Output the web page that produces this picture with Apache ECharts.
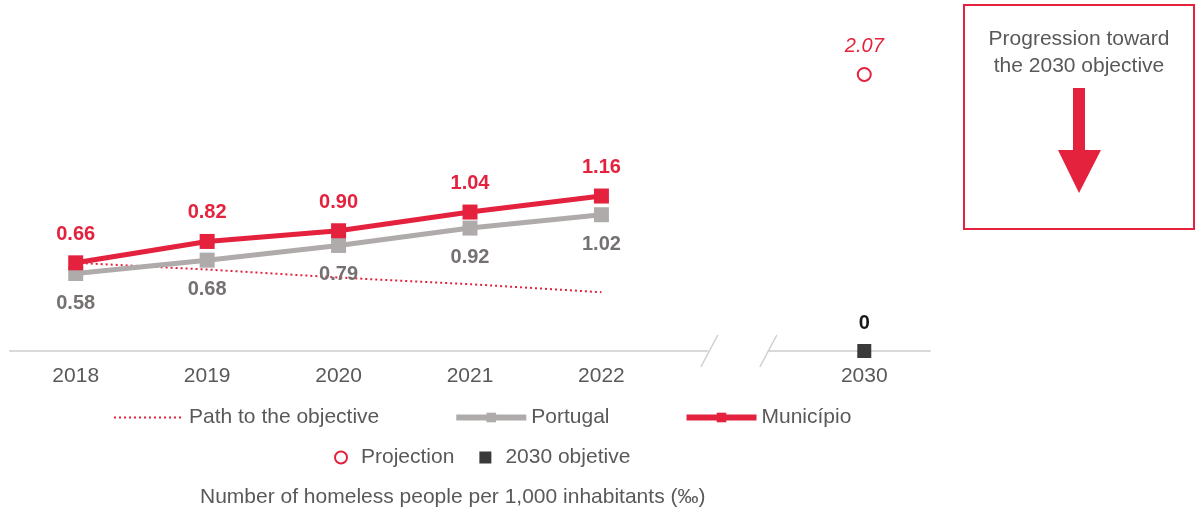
<!DOCTYPE html>
<html>
<head>
<meta charset="utf-8">
<script src="https://cdn.jsdelivr.net/npm/echarts@6/dist/echarts.min.js"></script>
<style>
  html, body { margin: 0; padding: 0; background: #fff; }
  #chart { width: 1196px; height: 511px; }
</style>
</head>
<body>
<div id="chart"></div>
<script>
// categories (empty slot = axis break between 2022 and 2030)
const years = ['2018', '2019', '2020', '2021', '2022', '', '2030']
const municipio = [0.66, 0.82, 0.90, 1.04, 1.16, null, null]
const portugal = [0.58, 0.68, 0.79, 0.92, 1.02, null, null]
const pathToObjective = [0.66, 0.61, 0.55, 0.50, 0.44, null, null]
const projection = [null, null, null, null, null, null, 2.07]
const objective2030 = [null, null, null, null, null, null, 0]

const RED = '#E4223E'
const GREY_LINE = '#AFABAB'
const GREY_TXT = '#767171'
const TXT = '#595959'
const FONT = "'Liberation Sans', Arial, sans-serif"

const chart = echarts.init(document.getElementById('chart'))

chart.setOption({
  animation: false,
  textStyle: { fontFamily: FONT },
  grid: { left: 10, right: 266, top: 17, bottom: 160 },
  xAxis: {
    type: 'category',
    data: years,
    axisTick: { show: false },
    axisLine: { lineStyle: { color: '#d9d9d9', width: 2 } },
    axisLabel: { color: TXT, fontSize: 21, margin: 15, fontFamily: FONT }
  },
  yAxis: { type: 'value', min: 0, max: 2.5, show: false, splitLine: { show: false } },
  legend: [
    {
      left: 108,
      top: 402,
      itemWidth: 70,
      itemHeight: 12,
      itemGap: 74,
      textStyle: { color: TXT, fontSize: 21, fontFamily: FONT },
      data: [
        { name: 'Path to the objective', itemStyle: { color: 'rgba(0,0,0,0)', borderWidth: 0 }, lineStyle: { width: 2 } },
        { name: 'Portugal', lineStyle: { width: 6 } },
        { name: 'Município', lineStyle: { width: 6 } }
      ]
    },
    {
      left: 321,
      top: 442,
      itemWidth: 30,
      itemHeight: 15,
      itemGap: 16,
      textStyle: { color: TXT, fontSize: 21, fontFamily: FONT },
      data: ['Projection', '2030 objetive']
    }
  ],
  series: [
    {
      name: 'Path to the objective',
      type: 'line',
      data: pathToObjective,
      symbol: 'none',
      lineStyle: { color: RED, width: 2, type: [2, 3] },
      itemStyle: { color: RED },
      z: 1
    },
    {
      name: 'Portugal',
      type: 'line',
      data: portugal,
      symbol: 'rect',
      symbolSize: 15,
      lineStyle: { color: GREY_LINE, width: 5 },
      itemStyle: { color: GREY_LINE },
      label: {
        show: true, position: 'bottom', distance: 12,
        color: GREY_TXT, fontSize: 20, fontWeight: 'bold', fontFamily: FONT,
        formatter: p => p.value.toFixed(2)
      },
      z: 2
    },
    {
      name: 'Município',
      type: 'line',
      data: municipio,
      symbol: 'rect',
      symbolSize: 15,
      lineStyle: { color: RED, width: 5 },
      itemStyle: { color: RED },
      label: {
        show: true, position: 'top', distance: 11,
        color: RED, fontSize: 20, fontWeight: 'bold', fontFamily: FONT,
        formatter: p => p.value.toFixed(2)
      },
      z: 3
    },
    {
      name: 'Projection',
      type: 'line',
      data: projection,
      symbol: 'circle',
      symbolSize: 13,
      lineStyle: { width: 0 },
      itemStyle: { color: '#fff', borderColor: RED, borderWidth: 2 },
      label: {
        show: true, position: 'top', distance: 11,
        color: RED, fontSize: 20, fontStyle: 'italic', fontFamily: FONT,
        formatter: p => p.value.toFixed(2)
      }
    },
    {
      name: '2030 objetive',
      type: 'line',
      data: objective2030,
      symbol: 'rect',
      symbolSize: 14,
      lineStyle: { width: 0 },
      itemStyle: { color: '#3a3a3a' },
      label: {
        show: true, position: 'top', distance: 11,
        color: '#1a1a1a', fontSize: 20, fontWeight: 'bold', fontFamily: FONT,
        formatter: p => String(p.value)
      },
      z: 4
    }
  ]
})

// axis break marks, placed from the axis scale
const brk = chart.convertToPixel({ xAxisIndex: 0 }, 5)
const axisY = chart.convertToPixel({ yAxisIndex: 0 }, 0)
chart.setOption({
  graphic: [
    { type: 'rect', shape: { x: brk - 25, y: axisY - 3, width: 60, height: 6 }, style: { fill: '#fff' }, z: 10 },
    { type: 'line', shape: { x1: brk - 32, y1: axisY + 16, x2: brk - 15, y2: axisY - 16 }, style: { stroke: '#cfcfcf', lineWidth: 1.5 }, z: 11 },
    { type: 'line', shape: { x1: brk + 27, y1: axisY + 16, x2: brk + 44, y2: axisY - 16 }, style: { stroke: '#cfcfcf', lineWidth: 1.5 }, z: 11 },
    // box on the right
    { type: 'rect', shape: { x: 964, y: 5, width: 230, height: 224 }, style: { fill: '#fff', stroke: RED, lineWidth: 2 }, z: 10 },
    {
      type: 'text', x: 1079, y: 26, z: 11,
      style: {
        text: 'Progression toward\nthe 2030 objective', align: 'center',
        fill: TXT, font: '21px ' + FONT, lineHeight: 27
      }
    },
    {
      type: 'polygon', z: 11,
      shape: { points: [[1073, 88], [1085, 88], [1085, 150], [1101, 150], [1079, 193], [1058, 150], [1073, 150]] },
      style: { fill: RED }
    },
    {
      type: 'text', x: 200, y: 487, z: 11,
      style: { text: 'Number of homeless people per 1,000 inhabitants (‰)', fill: TXT, font: '21px ' + FONT }
    }
  ]
})
</script>
</body>
</html>
